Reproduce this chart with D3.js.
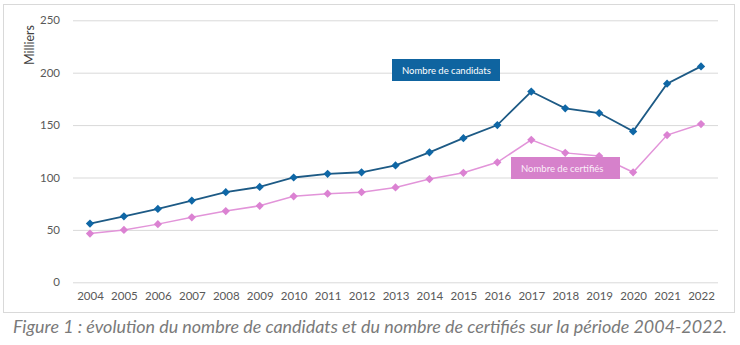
<!DOCTYPE html>
<html>
  <head>
    <meta charset="utf-8">
    <script src="https://d3js.org/d3.v7.min.js"></script>
    <title>Candidats et certifiés 2004-2022</title>
    <style>
      body { margin: 0; background: #fff; }
      text { font-family: Lato, "Open Sans", sans-serif; }
    </style>
  </head>
  <body>
    <svg width="740" height="345"></svg>
    <script>
      const years = ['2004','2005','2006','2007','2008','2009','2010','2011','2012','2013',
                     '2014','2015','2016','2017','2018','2019','2020','2021','2022'];
      const candidats = [56, 63, 70, 78, 86, 91, 100, 103.5, 105, 111.5,
                         124, 137.5, 150, 182, 166, 161.5, 144, 189.5, 206];
      const certifies = [46.5, 50, 55.5, 62, 68, 73, 82, 84.5, 86, 90.5,
                         98.5, 104.5, 114.5, 136, 123.5, 120.5, 105, 140.5, 151];
      const yTicks = [0, 50, 100, 150, 200, 250];
      const caption = 'Figure 1 : évolution du nombre de candidats et du nombre de certifiés sur la période 2004-2022.';

      const svg = d3.select('svg');

      // frame of the chart
      svg.append('rect')
          .attr('x', 3.5).attr('y', 4.5)
          .attr('width', 731).attr('height', 308)
          .attr('fill', '#fff')
          .attr('stroke', '#d9d9d9');

      const x = d3.scalePoint().domain(years).range([73, 718]).padding(0.5);
      const y = d3.scaleLinear().domain([0, 250]).range([282.3, 20.3]);

      // gridlines + y labels
      const yAxis = svg.append('g')
          .attr('transform', 'translate(73,0)')
          .call(d3.axisLeft(y).tickValues(yTicks).tickSize(-645).tickPadding(13));
      yAxis.select('.domain').remove();
      yAxis.selectAll('.tick line').attr('stroke', '#d9d9d9');
      yAxis.selectAll('.tick text')
          .attr('fill', '#595959')
          .attr('font-size', 11.5)
          .attr('font-family', 'Lato, sans-serif');

      const xAxis = svg.append('g')
          .attr('transform', 'translate(0,282.3)')
          .call(d3.axisBottom(x).tickSize(0).tickPadding(10));
      xAxis.select('.domain').remove();
      xAxis.selectAll('.tick text')
          .attr('fill', '#595959')
          .attr('font-size', 11.5)
          .attr('font-family', 'Lato, sans-serif');

      svg.append('text')
          .attr('transform', 'translate(34,45) rotate(-90)')
          .attr('text-anchor', 'middle')
          .attr('fill', '#404040')
          .attr('font-size', 12.5)
          .text('Milliers');

      const series = [
        { name: 'Nombre de candidats', values: candidats, line: '#1d5a85', mark: '#0f67a6', width: 1.8 },
        { name: 'Nombre de certifiés', values: certifies, line: '#e294d9', mark: '#db82d2', width: 1.5 }
      ];

      const line = d3.line()
        .x((d, i) => x(years[i]))
        .y(d => y(d));

      // square turned 45 degrees, like the excel markers
      const diamond = d3.symbol().type(d3.symbolSquare).size(34);

      series.forEach(s => {
        svg.append('path')
            .attr('d', line(s.values))
            .attr('fill', 'none')
            .attr('stroke', s.line)
            .attr('stroke-width', s.width);
        svg.append('g').selectAll('path').data(s.values)
          .enter().append('path')
            .attr('d', diamond)
            .attr('transform', (d, i) => `translate(${x(years[i])},${y(d)}) rotate(45)`)
            .attr('fill', s.mark);
      });

      // label boxes
      const labels = [
        { text: series[0].name, x: 392, y: 59, w: 108, h: 22, fill: '#0f64a0', color: '#fff' },
        { text: series[1].name, x: 511, y: 157, w: 109, h: 22, fill: '#d681cb', color: '#fbeef9' }
      ];
      labels.forEach(l => {
        svg.append('rect')
            .attr('x', l.x).attr('y', l.y)
            .attr('width', l.w).attr('height', l.h)
            .attr('fill', l.fill);
        svg.append('text')
            .attr('x', l.x + 10).attr('y', l.y + l.h / 2 + 3.5)
            .attr('fill', l.color)
            .attr('font-size', 9.5)
            .text(l.text);
      });

      // caption
      const cap = svg.append('text')
          .attr('x', 370).attr('y', 333)
          .attr('text-anchor', 'middle')
          .attr('fill', '#7a7a7a')
          .attr('font-style', 'italic')
          .attr('font-size', 16)
          .text(caption);
      const w = cap.node().getComputedTextLength();
      cap.attr('font-size', 16 * 715 / w);
    </script>
  </body>
</html>
